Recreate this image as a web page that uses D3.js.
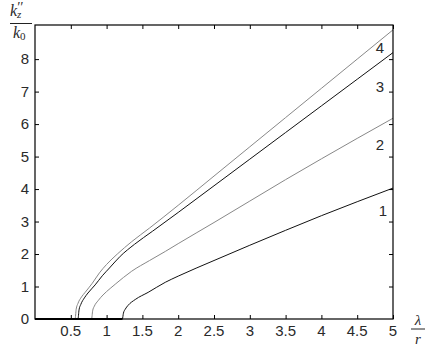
<!DOCTYPE html>
<html lang="en">
<head>
    <meta charset="UTF-8">
    <script src="https://d3js.org/d3.v7.min.js"></script>
    <style>
        body {
            margin: 0;
            padding: 0;
            background-color: #ffffff;
        }
        svg {
            display: block;
        }
        .tick-label {
            font-family: 'Liberation Sans', Arial, sans-serif;
            font-size: 15px;
            fill: #2a2a2a;
        }
        .math {
            font-family: 'Liberation Serif', 'Times New Roman', serif;
            font-style: italic;
            fill: #2a2a2a;
        }
    </style>
</head>
<body>
    <svg id="chart" width="430" height="350"></svg>

    <script>
        // Curve data (x = lambda / r, y = k_z'' / k_0)
        const x1 = [0, 1.22, 1.235, 1.26, 1.3, 1.4, 1.58, 1.82, 2, 2.5, 3, 3.5, 4, 4.5, 5];
        const y1 = [0, 0, 0.18, 0.3, 0.42, 0.6, 0.82, 1.13, 1.32, 1.8, 2.27, 2.73, 3.18, 3.61, 4.03];

        const x2 = [0, 0.79, 0.805, 0.83, 0.88, 0.95, 1.05, 1.12, 1.35, 1.6, 1.82, 2, 2.5, 3, 3.5, 4, 4.5, 5];
        const y2 = [0, 0, 0.25, 0.4, 0.56, 0.74, 0.94, 1.07, 1.47, 1.8, 2.08, 2.32, 2.97, 3.63, 4.29, 4.93, 5.56, 6.18];

        const x3 = [0, 0.6, 0.615, 0.64, 0.69, 0.74, 0.84, 0.94, 1.04, 1.19, 1.39, 1.64, 2, 2.5, 3, 3.5, 4, 4.5, 5];
        const y3 = [0, 0, 0.28, 0.45, 0.65, 0.8, 1.05, 1.33, 1.57, 1.93, 2.3, 2.7, 3.28, 4.1, 4.92, 5.74, 6.56, 7.38, 8.2];

        const x4 = [0, 0.56, 0.575, 0.6, 0.65, 0.7, 0.8, 0.9, 1.0, 1.15, 1.35, 1.6, 2, 2.5, 3, 3.5, 4, 4.5, 5];
        const y4 = [0, 0, 0.3, 0.48, 0.68, 0.82, 1.1, 1.42, 1.68, 2.0, 2.38, 2.8, 3.5, 4.4, 5.3, 6.2, 7.1, 8.0, 8.9];

        const curveNames = ["1", "2", "3", "4"];
        const curveColors = ["#111", "#888", "#111", "#888"];

        const xTicks = [0.5, 1, 1.5, 2, 2.5, 3, 3.5, 4, 4.5, 5];
        const yTicks = [0, 1, 2, 3, 4, 5, 6, 7, 8];

        const curves = [[x1, y1], [x2, y2], [x3, y3], [x4, y4]].map(([xs, ys], i) => ({
            name: curveNames[i],
            color: curveColors[i],
            points: xs.map((x, j) => [x, ys[j]])
        }));

        const plotLeft = 35, plotRight = 393, plotTop = 25, plotBottom = 319;

        const svg = d3.select("#chart");

        const x = d3.scaleLinear().domain([0, 5]).range([plotLeft, plotRight]);
        const y = d3.scaleLinear().domain([0, 9.05]).range([plotBottom, plotTop]);

        // Curves
        const line = d3.line()
            .x(d => x(d[0]))
            .y(d => y(d[1]))
            .curve(d3.curveMonotoneX);

        svg.selectAll(".curve")
            .data(curves)
            .enter()
            .append("path")
            .attr("class", "curve")
            .attr("fill", "none")
            .attr("stroke", d => d.color)
            .attr("stroke-width", 1)
            .attr("d", d => line(d.points));

        // Box with inward ticks on all sides
        const axisStyle = g => {
            g.select(".domain").remove();
            g.selectAll("line").attr("stroke", "#000");
        };

        svg.append("g")
            .attr("transform", `translate(0,${plotBottom})`)
            .call(d3.axisBottom(x).tickValues(xTicks).tickSize(-4).tickFormat(""))
            .call(axisStyle);
        svg.append("g")
            .attr("transform", `translate(0,${plotTop})`)
            .call(d3.axisTop(x).tickValues(xTicks).tickSize(-4).tickFormat(""))
            .call(axisStyle);
        svg.append("g")
            .attr("transform", `translate(${plotLeft},0)`)
            .call(d3.axisLeft(y).tickValues(yTicks.slice(1)).tickSize(-4).tickFormat(""))
            .call(axisStyle);
        svg.append("g")
            .attr("transform", `translate(${plotRight},0)`)
            .call(d3.axisRight(y).tickValues(yTicks.slice(1)).tickSize(-4).tickFormat(""))
            .call(axisStyle);

        svg.append("rect")
            .attr("x", plotLeft)
            .attr("y", plotTop)
            .attr("width", plotRight - plotLeft)
            .attr("height", plotBottom - plotTop)
            .attr("fill", "none")
            .attr("stroke", "#000")
            .attr("stroke-width", 1.2);

        // Thick zero segment along the x axis
        svg.append("line")
            .attr("x1", x(0)).attr("x2", x(x1[1]))
            .attr("y1", y(0)).attr("y2", y(0))
            .attr("stroke", "#000")
            .attr("stroke-width", 2.2);

        // Tick labels
        svg.selectAll(".xlab")
            .data(xTicks)
            .enter()
            .append("text")
            .attr("class", "tick-label")
            .attr("x", d => x(d))
            .attr("y", 336)
            .attr("text-anchor", "middle")
            .text(d => d);

        svg.selectAll(".ylab")
            .data(yTicks)
            .enter()
            .append("text")
            .attr("class", "tick-label")
            .attr("x", 29)
            .attr("y", d => y(d) + 5)
            .attr("text-anchor", "end")
            .text(d => d);

        // Curve numbers
        const numPos = [[383, 216], [380, 150], [380, 92], [380, 53]];
        svg.selectAll(".num")
            .data(curves)
            .enter()
            .append("text")
            .attr("class", "tick-label")
            .attr("x", (d, i) => numPos[i][0])
            .attr("y", (d, i) => numPos[i][1])
            .attr("text-anchor", "middle")
            .text(d => d.name);

        // Axis labels as fractions
        const yl = svg.append("g");
        const num = yl.append("text").attr("class", "math").attr("x", 10).attr("y", 16).attr("font-size", 16);
        num.append("tspan").text("k");
        num.append("tspan").attr("font-size", 11).attr("dy", 2).text("z");
        num.append("tspan").attr("font-size", 14).attr("dy", -6).attr("dx", -5).text("′′");
        yl.append("line").attr("x1", 10).attr("x2", 32).attr("y1", 23.5).attr("y2", 23.5)
            .attr("stroke", "#222").attr("stroke-width", 1);
        const den = yl.append("text").attr("class", "math").attr("x", 13).attr("y", 38).attr("font-size", 16);
        den.append("tspan").text("k");
        den.append("tspan").attr("font-size", 11).attr("dy", 2).attr("font-style", "normal").text("0");

        const xl = svg.append("g");
        xl.append("text").attr("class", "math").attr("x", 418).attr("y", 325)
            .attr("text-anchor", "middle").attr("font-size", 15).text("λ");
        xl.append("line").attr("x1", 411).attr("x2", 425).attr("y1", 329).attr("y2", 329)
            .attr("stroke", "#222").attr("stroke-width", 1);
        xl.append("text").attr("class", "math").attr("x", 418).attr("y", 344)
            .attr("text-anchor", "middle").attr("font-size", 15).text("r");
    </script>
</body>
</html>
